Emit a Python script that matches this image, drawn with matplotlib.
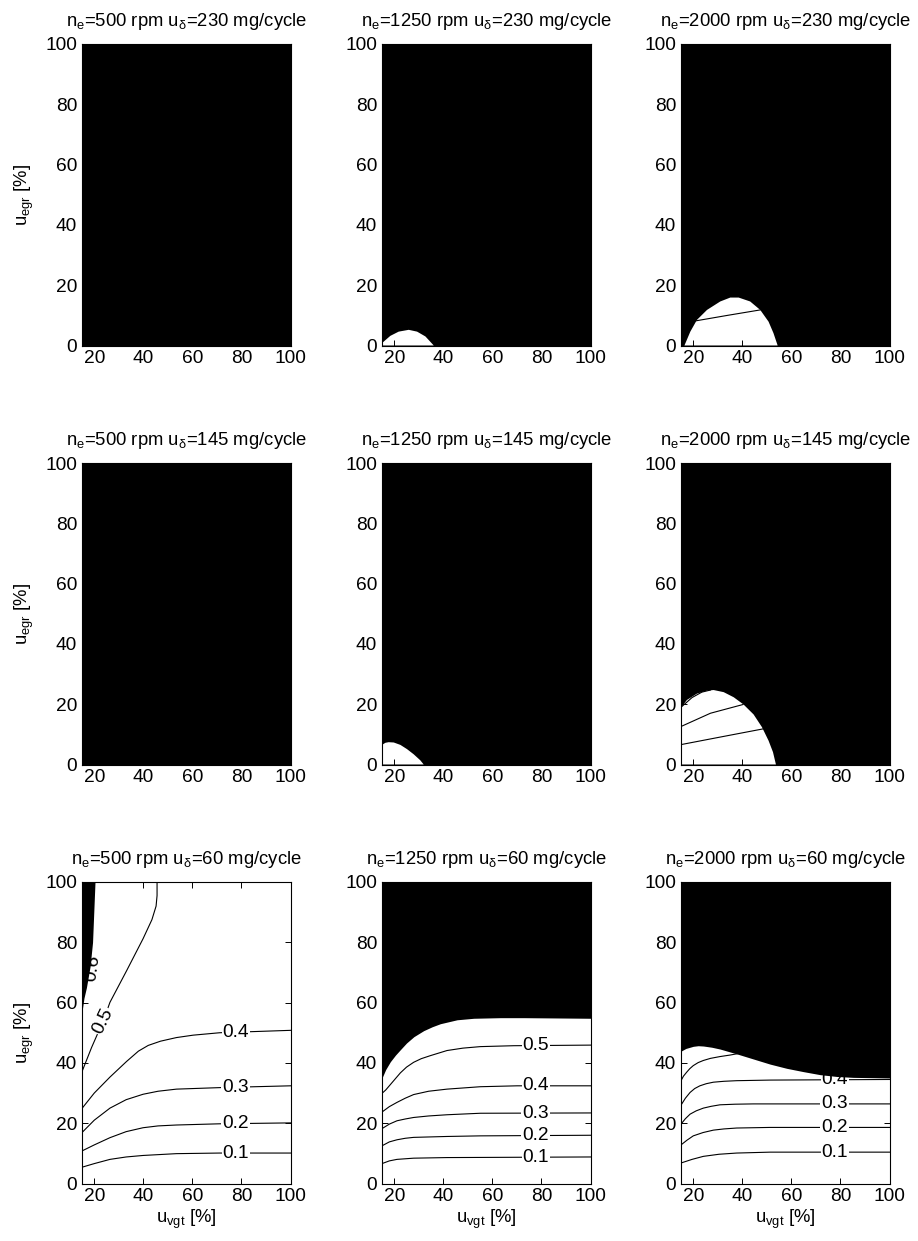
import numpy as np
import matplotlib
matplotlib.use("Agg")
import matplotlib.pyplot as plt

plt.rcParams['font.family'] = ['Liberation Sans', 'DejaVu Sans']
plt.rcParams['mathtext.fontset'] = 'custom'
plt.rcParams['mathtext.rm'] = 'Liberation Sans'
plt.rcParams['mathtext.it'] = 'Liberation Sans:italic'
plt.rcParams['mathtext.bf'] = 'Liberation Sans:bold'

# operating points: engine speed per column, injected fuel per row
engine_speed = [500, 1250, 2000]          # rpm
fuel_injected = [230, 145, 60]            # mg/cycle
vgt_ticks = [20, 40, 60, 80, 100]
egr_ticks = [0, 20, 40, 60, 80, 100]
vgt_lim = (15, 100)
egr_lim = (0, 100)

# feasible (white) regions inside otherwise infeasible panels
feas_1250_230_vgt = [15, 15, 18.4, 21.8, 25.9, 29.3, 32.7, 36.1]
feas_1250_230_egr = [0, 0.8, 3.2, 4.6, 5.2, 4.6, 3.0, 0]

feas_2000_230_vgt = [16.4, 18.8, 21.5, 25.6, 31.0, 35.1, 38.5, 43.2, 47.3, 50.7, 52.7, 54.4]
feas_2000_230_egr = [0, 4.6, 8.5, 11.8, 14.6, 15.9, 15.9, 14.6, 11.8, 7.9, 4.1, 0]

feas_1250_145_vgt = [15, 15, 16.4, 17.7, 19.8, 22.5, 25.2, 27.9, 30.6, 32.0]
feas_1250_145_egr = [0, 6.5, 7.2, 7.4, 7.3, 6.5, 5.1, 3.4, 1.4, 0]

feas_2000_145_vgt = [15, 15, 17.4, 21.5, 25.6, 28.3, 32.4, 36.5, 40.5, 44.6, 48.0, 50.7, 52.5, 53.7]
feas_2000_145_egr = [0, 18.8, 21.4, 23.5, 24.5, 24.7, 24.0, 22.3, 19.9, 16.6, 12.4, 7.9, 4.1, 0]

# iso-lines inside the small feasible regions (vgt, egr)
iso_2000_230 = [([21.2, 34.0, 47.3], [8.2, 10.0, 11.8])]
iso_2000_145 = [
    ([15, 31.0, 48.4], [6.6, 9.1, 11.8]),
    ([15, 27.0, 40.3], [12.6, 17.0, 19.9]),
    ([15.3, 19.5, 23.5, 27.0], [19.2, 22.2, 24.0, 24.7]),
]

# infeasible (black) boundaries at 60 mg/cycle
inf_500_60_egr = [57, 61.5, 65, 72, 80, 90, 100]
inf_500_60_vgt = [15, 15.8, 16.8, 18.3, 19.3, 19.8, 20.3]

inf_1250_60_vgt = [15, 16.5, 18.4, 20.5, 22.5, 25.0, 28.0, 32.0, 35.5, 38.8, 45.6, 52.4, 63.3, 72.8, 100]
inf_1250_60_egr = [35.0, 37.8, 40.4, 42.6, 44.4, 46.6, 48.7, 50.7, 52.0, 53.0, 54.3, 54.8, 55.0, 55.0, 54.8]

inf_2000_60_vgt = [15, 17, 20, 22, 24.1, 27.5, 30.9, 37.7, 44.5, 51.3, 58.1, 64.9, 71.7, 78.5, 85.2, 100]
inf_2000_60_egr = [43.9, 44.8, 45.5, 45.7, 45.6, 45.2, 44.6, 43.0, 41.3, 39.6, 38.2, 37.1, 36.1, 35.5, 35.2, 35.0]

# labelled iso-lines at 60 mg/cycle: level -> (vgt, egr)
iso_500_60 = {
    0.1: ([15, 20, 26.4, 33, 39.9, 53.5, 71.1, 100],
          [5.4, 6.6, 8.0, 8.8, 9.3, 9.9, 10.1, 10.1]),
    0.2: ([15, 20, 26.4, 33, 39.9, 46, 53.5, 71.1, 100],
          [10.8, 12.8, 15.2, 17.2, 18.5, 19.1, 19.4, 19.8, 20.1]),
    0.3: ([15, 20, 26.4, 33, 39.9, 46, 53.5, 71.1, 100],
          [16.9, 21.0, 25.0, 27.8, 29.6, 30.6, 31.3, 31.8, 32.4]),
    0.4: ([15, 20, 26.4, 33.2, 38, 42, 47, 53.5, 60.3, 71.1, 100],
          [24.9, 30.0, 35.3, 40.5, 43.9, 45.8, 47.2, 48.4, 49.2, 50.0, 50.8]),
    0.5: ([15, 18.9, 23.7, 26.4, 33.2, 39.9, 43.5, 45.2, 45.6, 45.6],
          [37.1, 45.1, 54.0, 60.1, 70.6, 81.2, 87.5, 92.0, 95.5, 100]),
}
iso_1250_60 = {
    0.1: ([15, 18, 21.1, 27.9, 41.5, 100], [6.6, 7.5, 8.0, 8.4, 8.6, 8.8]),
    0.2: ([15, 18, 21.1, 24.5, 27.9, 41.5, 55.1, 100], [12.5, 13.8, 14.5, 15.0, 15.3, 15.6, 15.8, 16.0]),
    0.3: ([15, 18, 21.1, 24.5, 27.9, 34, 41.5, 55.1, 100], [18.2, 19.7, 20.8, 21.4, 21.9, 22.4, 22.8, 23.3, 23.4]),
    0.4: ([15, 18, 21.1, 24.5, 27.9, 34, 41.5, 55.1, 70.1, 100],
          [23.7, 25.5, 26.9, 28.3, 29.5, 30.6, 31.3, 32.1, 32.4, 32.4]),
    0.5: ([15, 16.5, 18.4, 20.5, 22.5, 25, 27.9, 31, 34.7, 41.5, 48, 55.1, 68.7, 100],
          [29.9, 31.0, 32.8, 34.8, 36.7, 38.6, 40.2, 41.4, 42.4, 44.1, 44.9, 45.4, 45.7, 45.9]),
}
iso_2000_60 = {
    0.1: ([15, 19.5, 24.1, 30.5, 37.7, 51.3, 100], [6.8, 8.0, 9.0, 9.7, 10.1, 10.4, 10.4]),
    0.2: ([15, 17.5, 20, 24, 28.2, 32.5, 37.7, 51.3, 100], [12.8, 14.4, 15.8, 16.9, 17.7, 18.1, 18.4, 18.6, 18.6]),
    0.3: ([15, 16.8, 18.7, 21.2, 24.1, 27.3, 30.9, 37, 44.5, 100],
          [19.7, 21.5, 23.0, 24.1, 25.0, 25.6, 26.1, 26.3, 26.4, 26.4]),
    0.4: ([15, 16.8, 18.7, 20.6, 22.7, 25.3, 28.2, 32.5, 37.7, 51.3, 100],
          [26.0, 28.3, 30.2, 31.5, 32.4, 33.1, 33.6, 33.9, 34.1, 34.3, 34.5]),
    0.5: ([15, 16, 17.3, 18.6, 20, 22, 24.1, 27, 30.9, 35, 39, 48],
          [34.1, 35.6, 36.9, 38.1, 39.1, 40.1, 40.8, 41.5, 42.1, 42.6, 43.2, 43.8]),
}
label_vgt = 77.6                          # where horizontal labels sit
labels_2000_60 = [0.1, 0.2, 0.3, 0.4]     # 0.5 is covered by the infeasible area

LABEL_FS = 13.8
TICK_FS = 13.8
TITLE_FS = 13.3
LW = 0.8

fig = plt.figure(figsize=(9.18, 12.41), dpi=100)
W, H = 918.0, 1241.0
col_left = [82, 382, 681]
row_top = [44, 463, 882]
ax_w, ax_h = 208.5, 301.5

axes = [[None] * 3 for _ in range(3)]
for r in range(3):
    for c in range(3):
        ax = fig.add_axes([col_left[c] / W, (H - row_top[r] - ax_h) / H, ax_w / W, ax_h / H])
        axes[r][c] = ax
        ax.set_xlim(*vgt_lim)
        ax.set_ylim(*egr_lim)
        ax.set_xticks(vgt_ticks)
        ax.set_yticks(egr_ticks)
        ax.tick_params(direction='in', top=True, right=True, length=4, width=0.7,
                       labelsize=TICK_FS, pad=3.5, colors='black')
        for s in ax.spines.values():
            s.set_linewidth(LW)
            s.set_zorder(6)
        ax.set_title(rf"n$_\mathrm{{e}}$={engine_speed[c]} rpm u$_\mathrm{{δ}}$={fuel_injected[r]} mg/cycle",
                     fontsize=TITLE_FS, pad=13)
        if c == 0:
            ax.set_ylabel(r"u$_\mathrm{egr}$ [%]", fontsize=TITLE_FS, labelpad=7)
        if r == 2:
            ax.set_xlabel(r"u$_\mathrm{vgt}$ [%]", fontsize=TITLE_FS, labelpad=2)


def black_panel(ax):
    ax.set_facecolor('black')


def feasible_patch(ax, vgt, egr, lines):
    ax.set_facecolor('black')
    ax.fill(vgt, egr, color='white', lw=0, zorder=1)
    for x, y in lines:
        ax.plot(x, y, color='black', lw=0.8, zorder=2)


def labelled_lines(ax, iso, labelled):
    for lev, (x, y) in iso.items():
        ax.plot(x, y, color='black', lw=0.8, zorder=2)
        if lev in labelled:
            ly = np.interp(label_vgt, x, y)
            ax.text(label_vgt, ly, f"{lev:.1f}", fontsize=LABEL_FS, ha='center', va='center',
                    zorder=3, bbox=dict(facecolor='white', edgecolor='none', pad=0.6))


# 230 mg/cycle
black_panel(axes[0][0])
feasible_patch(axes[0][1], feas_1250_230_vgt, feas_1250_230_egr, [])
feasible_patch(axes[0][2], feas_2000_230_vgt, feas_2000_230_egr, iso_2000_230)

# 145 mg/cycle
black_panel(axes[1][0])
feasible_patch(axes[1][1], feas_1250_145_vgt, feas_1250_145_egr, [])
feasible_patch(axes[1][2], feas_2000_145_vgt, feas_2000_145_egr, iso_2000_145)

# 60 mg/cycle
ax = axes[2][0]
labelled_lines(ax, iso_500_60, [0.1, 0.2, 0.3, 0.4])
x5, y5 = iso_500_60[0.5]
ax.text(23.6, np.interp(23.6, x5, y5), "0.5", fontsize=LABEL_FS, ha='center', va='center',
        rotation=64, zorder=3, bbox=dict(facecolor='white', edgecolor='none', pad=0.6))
ax.text(19.4, 71.5, "0.6", fontsize=LABEL_FS, ha='center', va='center', rotation=82,
        zorder=3, bbox=dict(facecolor='white', edgecolor='none', pad=0.6))
ax.fill_betweenx(inf_500_60_egr, vgt_lim[0], inf_500_60_vgt, color='black', lw=0, zorder=4)

ax = axes[2][1]
labelled_lines(ax, iso_1250_60, [0.1, 0.2, 0.3, 0.4, 0.5])
ax.fill_between(inf_1250_60_vgt, inf_1250_60_egr, egr_lim[1], color='black', lw=0, zorder=4)

ax = axes[2][2]
labelled_lines(ax, iso_2000_60, labels_2000_60)
ax.fill_between(inf_2000_60_vgt, inf_2000_60_egr, egr_lim[1], color='black', lw=0, zorder=4)

fig.savefig("out.png", dpi=100)
